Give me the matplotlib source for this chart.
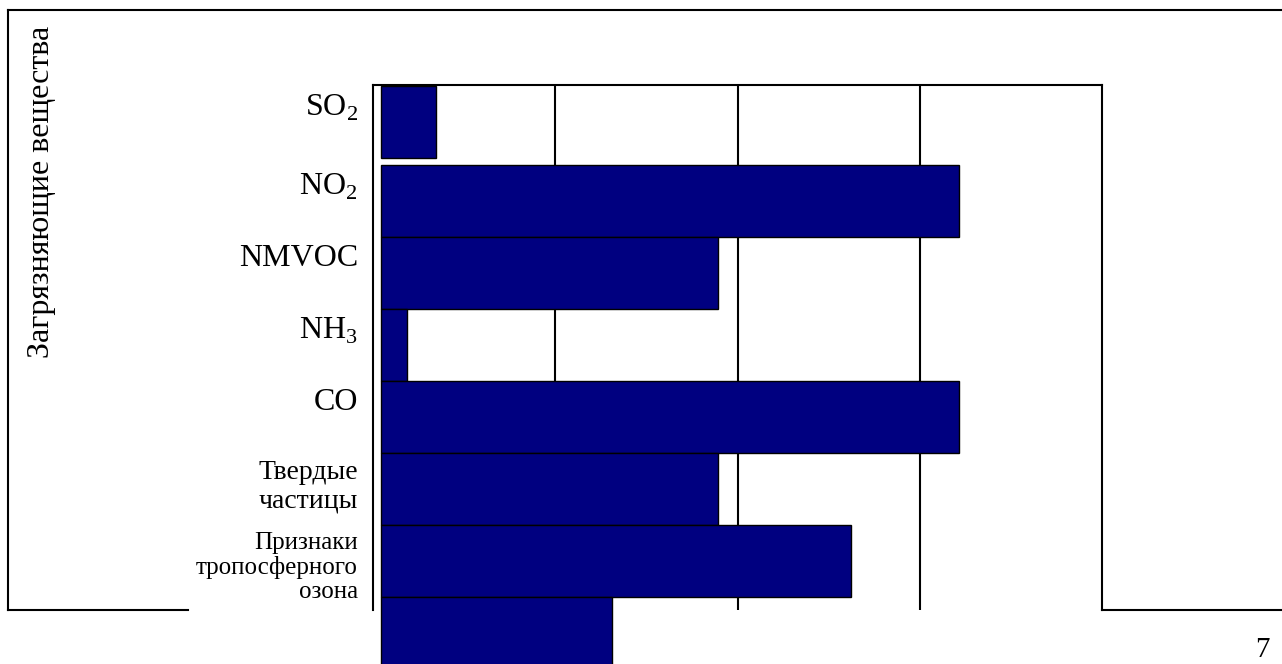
import matplotlib.pyplot as plt
import numpy as np
from matplotlib.lines import Line2D
from matplotlib import transforms

plt.rcParams['font.family'] = ['Liberation Serif', 'DejaVu Serif']
plt.rcParams['mathtext.fontset'] = 'custom'
plt.rcParams['mathtext.rm'] = 'Liberation Serif'

# pollutants and bar lengths (in grid units)
labels = ['SO$_\\mathregular{2}$', 'NO$_\\mathregular{2}$', 'NMVOC', 'NH$_\\mathregular{3}$', 'CO',
          'Твердые\nчастицы', 'Признаки\nтропосферного\nозона', '']
values = [0.30, 3.17, 1.85, 0.14, 3.17, 1.85, 2.58, 1.27]
label_sizes = [23, 23, 23, 23, 23, 20, 18, 18]
line_spacing = [1.2, 1.2, 1.2, 1.2, 1.2, 1.17, 1.12, 1.0]
ylabel = 'Загрязняющие вещества'
page_no = '7'

W, H = 1282, 664
fig = plt.figure(figsize=(W / 100, H / 100), dpi=100)

def px(x):
    return x / W

def py(y):
    return 1 - y / H

# page frame, broken where the chart sits on it
lw_frame = 1.5
for xs, ys in [([8, 1282], [10, 10]), ([8, 8], [10, 610]),
               ([8, 188], [610, 610]), ([1102, 1282], [610, 610])]:
    fig.add_artist(Line2D([px(v) for v in xs], [py(v) for v in ys],
                          color='black', lw=lw_frame, solid_capstyle='projecting'))

ax = fig.add_axes([px(373), py(610), px(1102) - px(373), py(85) - py(610)])

ypos = np.arange(len(values), dtype=float)
ypos[0] -= 0.1
gap = 0.044
ax.barh(ypos, values, height=1.0, left=gap, color='#000080',
        edgecolor='black', linewidth=1, clip_on=False, zorder=3)

ax.set_xlim(0, 4)
ax.set_ylim(6.68, -0.611)
ax.set_xticks([1, 2, 3])
ax.set_yticks([])
ax.tick_params(axis='x', length=0, labelbottom=False)
ax.grid(axis='x', color='black', lw=1.5)
ax.set_axisbelow(True)
ax.spines['bottom'].set_visible(False)
for s in ['left', 'top', 'right']:
    ax.spines[s].set_color('black')
    ax.spines[s].set_linewidth(1.5)

# category labels, hung from the top of each bar
trans = transforms.blended_transform_factory(ax.transAxes, ax.transData) + \
    transforms.ScaledTranslation(-15 / 100, -7 / 100, fig.dpi_scale_trans)
for y, lab, fs, ls in zip(ypos, labels, label_sizes, line_spacing):
    ax.text(0, y - 0.5, lab, transform=trans, ha='right', va='top',
            multialignment='right', fontsize=fs, linespacing=ls, clip_on=False)

fig.text(px(42), py(192), ylabel, rotation=90, ha='center', va='center', fontsize=23)
fig.text(px(1262), py(650), page_no, ha='center', va='center', fontsize=21)

fig.savefig('out.png', dpi=100)
